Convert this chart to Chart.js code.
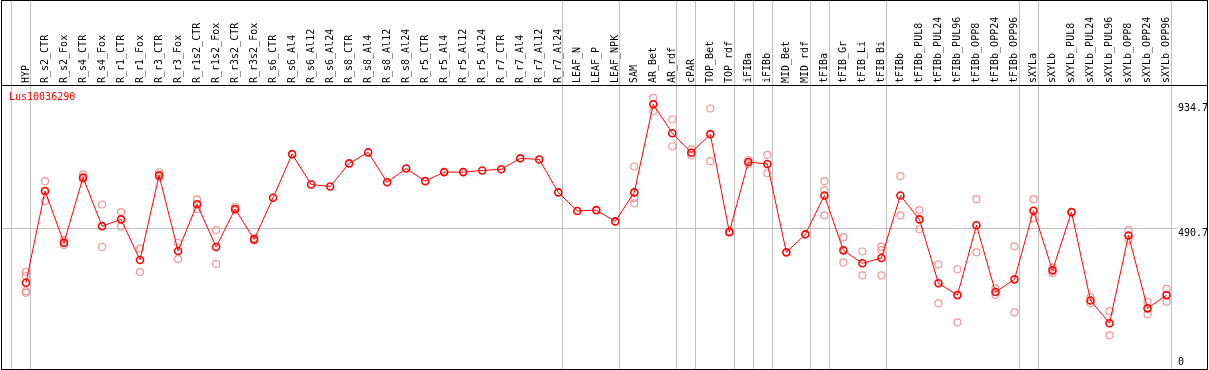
<!DOCTYPE html>
<html><head><meta charset="utf-8">
<script src="https://cdn.jsdelivr.net/npm/chart.js@4"></script>
<style>html,body{margin:0;padding:0;background:#fff;overflow:hidden}#wrap{width:1209px;height:370px}</style>
</head><body><div id="wrap"><canvas id="c" width="1209" height="370"></canvas></div>
<script>
const geneName = 'Lus10036290';
const categories = ['HYP','R_s2_CTR','R_s2_Fox','R_s4_CTR','R_s4_Fox','R_r1_CTR','R_r1_Fox','R_r3_CTR','R_r3_Fox','R_r1s2_CTR','R_r1s2_Fox','R_r3s2_CTR','R_r3s2_Fox','R_s6_CTR','R_s6_Al4','R_s6_Al12','R_s6_Al24','R_s8_CTR','R_s8_Al4','R_s8_Al12','R_s8_Al24','R_r5_CTR','R_r5_Al4','R_r5_Al12','R_r5_Al24','R_r7_CTR','R_r7_Al4','R_r7_Al12','R_r7_Al24','LEAF_N','LEAF_P','LEAF_NPK','SAM','AR_Bet','AR_rdf','cPAR','TOP_Bet','TOP_rdf','iFIBa','iFIBb','MID_Bet','MID_rdf','tFIBa','tFIB_Gr','tFIB_Li','tFIB_Bi','tFIBb','tFIBb_PUL8','tFIBb_PUL24','tFIBb_PUL96','tFIBb_OPP8','tFIBb_OPP24','tFIBb_OPP96','sXYLa','sXYLb','sXYLb_PUL8','sXYLb_PUL24','sXYLb_PUL96','sXYLb_OPP8','sXYLb_OPP24','sXYLb_OPP96'];
const means = [296,622,438,670,497,521,377,678,409,575,
  423,558,450,598,753,645,638,720,759,653,
  702,657,689,689,695,699,738,734,617,551,
  554,514,617,930,827,758,824,476,725,718,
  404,468,606,411,365,384,606,521,294,252,
  500,263,308,552,340,547,233,152,464,205,252];
const replicates = [
  [335,320,266,260],[657,586,622],[448,430,438],[681,667,662],[574,423],[547,495],[418,334],[688,675,671],[438,380],[592,558],
  [483,363],[566,554,554],[455,446],[],[],[],[],[],[],[],
  [],[],[],[],[],[],[],[],[],[],
  [],[],[709,596,578],[953,906],[876,781],[770,749],[915,728],[478,474],[732,718],[750,685],
  [],[],[657,625,535],[458,368],[407,322],[424,412,322],[675,535],[554,486],[361,223],[344,155],
  [593,404],[276,252],[425,191],[593,525],[349,331],[547],[244,223],[195,109],[483,450],[228,184],[274,228]];
const groupEnds = [-1,0,28,31,34,35,37,38,39,41,42,45,52,53,60];
const refLineValue = 490.7;
const yTickValues = [934.7, 490.7, 0];
const yTickLabels = ['934.7','490.7','0'];

const meanPoints = means.map((v,i)=>({x:i,y:v}));
const repPoints = [];
replicates.forEach((arr,i)=>arr.forEach(v=>repPoints.push({x:i,y:v})));

const MONO = 'DejaVu Sans Mono';
const decor = {
  id:'decor',
  beforeDatasetsDraw(chart){
    const {ctx, chartArea, scales:{x,y}} = chart;
    ctx.save();
    ctx.strokeStyle='#c0c0c0'; ctx.lineWidth=1;
    groupEnds.forEach(i=>{
      const px=Math.round(x.getPixelForValue(i+0.22))+0.5;
      ctx.beginPath(); ctx.moveTo(px,0); ctx.lineTo(px,chartArea.bottom); ctx.stroke();
    });
    const py=Math.round(y.getPixelForValue(refLineValue))+0.5;
    ctx.beginPath(); ctx.moveTo(chartArea.left,py); ctx.lineTo(chartArea.right,py); ctx.stroke();
    ctx.restore();
  },
  afterDraw(chart){
    const {ctx, chartArea, scales:{y}} = chart;
    ctx.save();
    ctx.strokeStyle='#000'; ctx.lineWidth=1;
    ctx.strokeRect(1.5,0.5,1206,369);
    ctx.beginPath(); ctx.moveTo(1,85.5); ctx.lineTo(1208,85.5); ctx.stroke();
    ctx.font='10px "'+MONO+'"';
    ctx.fillStyle='#000'; ctx.textAlign='left';
    yTickValues.forEach((v,k)=>{
      const py=y.getPixelForValue(v);
      if(py+11>chartArea.bottom){ctx.textBaseline='bottom'; ctx.fillText(yTickLabels[k],chartArea.right+1,py+1);}
      else {ctx.textBaseline='top'; ctx.fillText(yTickLabels[k],chartArea.right+1,py);}
    });
    ctx.fillStyle='#ff0000'; ctx.textBaseline='top';
    ctx.fillText(geneName,chartArea.left+8,chartArea.top+6);
    ctx.restore();
  }
};

new Chart(document.getElementById('c'),{
  type:'line',
  data:{datasets:[
    {data:meanPoints,order:1,borderColor:'#ff0000',borderWidth:1,pointRadius:3.5,pointBorderWidth:1.6,
     pointBorderColor:'#ff0000',pointBackgroundColor:'rgba(0,0,0,0)',tension:0,fill:false},
    {data:repPoints,order:2,showLine:false,pointRadius:3.5,pointBorderWidth:1.2,
     pointBorderColor:'#f09696',pointBackgroundColor:'rgba(0,0,0,0)'}
  ]},
  options:{
    responsive:false,animation:false,devicePixelRatio:1,
    layout:{autoPadding:false,padding:{left:1,right:32,top:0,bottom:1}},
    plugins:{legend:{display:false},tooltip:{enabled:false}},
    scales:{
      x:{type:'linear',position:'top',min:-1.315,max:60.55,
        afterBuildTicks:s=>{s.ticks=categories.map((_,i)=>({value:i}));},
        afterFit:s=>{s.height=86;s.paddingLeft=0;s.paddingRight=0;},
        grid:{display:false,drawTicks:false},border:{display:false},
        ticks:{autoSkip:false,maxRotation:90,minRotation:90,padding:3,labelOffset:12,color:'#000',
          font:{family:MONO,size:10},callback:v=>categories[v]??''}},
      y:{display:false,min:-10.5,max:995}
    }
  },
  plugins:[decor]
});
</script></body></html>
